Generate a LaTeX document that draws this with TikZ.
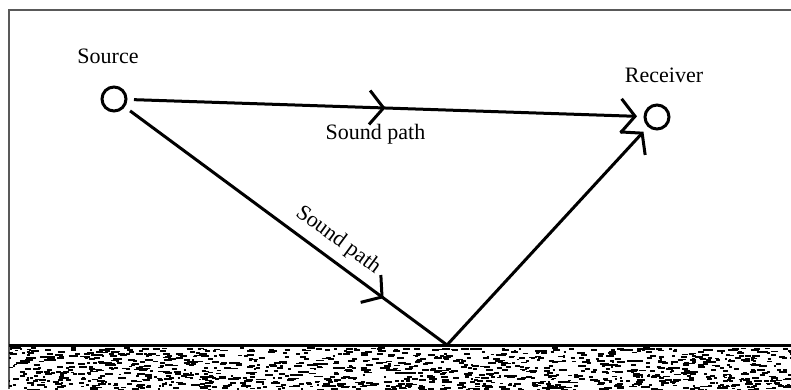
\documentclass[tikz,border=0pt]{standalone}
\usepackage{fontspec}
\setmainfont{Liberation Serif}
\usetikzlibrary{positioning,arrows.meta,decorations.markings}

\tikzset{
    spot/.style={draw, circle, line width=3pt, minimum size=24pt, inner sep=0pt, outer sep=8pt},
    ray/.style={line width=3pt, -{Straight Barb[length=14pt,width=34pt]}},
    midarrow/.style={postaction={decorate}, decoration={markings,
        mark=at position #1 with {\arrow{Straight Barb[length=14pt,width=34pt]}}}},
    tag/.style={font=\fontsize{22}{24}\selectfont, inner sep=2pt}
}

\begin{document}
\begin{tikzpicture}[x=1pt, y=-1pt]
        \useasboundingbox (0,0) rectangle (791,389);

        % Frame
        \draw[black!65, line width=1.2pt] (9,389) -- (9,10) -- (791,10);

        % Ground
        \begin{scope}
            \clip (9,347) rectangle (791,389);
            \pgfmathsetseed{17}
            \foreach \i in {1,...,1300}{
                \pgfmathsetmacro\gx{5+786*rnd}
                \pgfmathsetmacro\gy{348+42*rnd}
                \pgfmathsetmacro\gl{2+6*rnd}
                \draw[line width=1.8pt] (\gx,\gy) -- ++(\gl,0);
            }
        \end{scope}
        \draw[line width=3pt] (9,345) -- (791,345);
        \coordinate (hit) at (447,345);

        % Source and receiver
        \node[spot] (src) at (114,99) {};
        \node[spot] (rcv) at (657,117) {};
        \node[tag] (srclbl) at (108,56) {Source};
        \node[tag] (rcvlbl) at (664,75) {Receiver};

        % Sound paths
        \draw[ray, midarrow=0.5] (src) -- (rcv)
            node[tag, pos=0.48, below=13pt] (toplbl) {Sound path};
        \draw[line width=3pt, midarrow=0.8] (src) -- (hit)
            node[tag, pos=0.62, sloped, above=6pt] (sidelbl) {Sound path};
        \draw[ray] (hit) -- (rcv);
    \end{tikzpicture}
\end{document}
